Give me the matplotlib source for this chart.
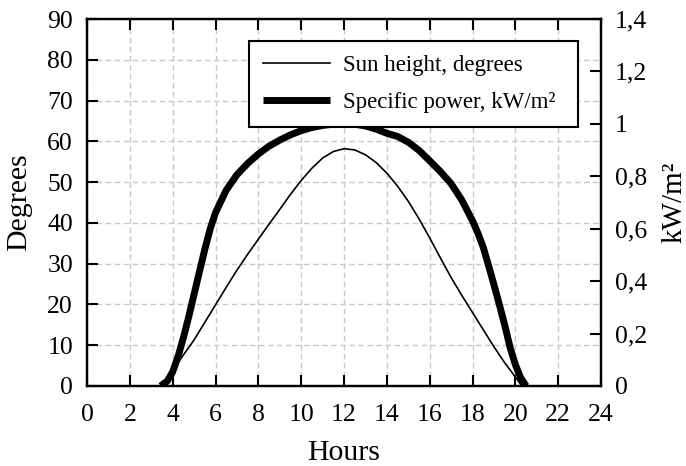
import matplotlib
matplotlib.use("Agg")
import matplotlib.pyplot as plt

plt.rcParams['font.family'] = ['Liberation Serif', 'DejaVu Serif']

# --- data ---
sun_hours = [0, 3.45, 4.0, 4.5, 5.0, 5.5, 6.0, 6.5, 7.0, 7.5, 8.0, 8.5, 9.0, 9.5, 10.0,
             10.5, 11.0, 11.5, 12.0, 12.5, 13.0, 13.5, 14.0, 14.5, 15.0, 15.5, 16.0,
             16.5, 17.0, 17.5, 18.0, 18.5, 19.0, 19.5, 20.0, 20.3, 24]
sun_deg = [0, 0, 3.8, 7.6, 11.3, 15.6, 19.9, 24.2, 28.4, 32.3, 36.0, 39.7, 43.3, 47.0, 50.4,
           53.4, 55.9, 57.5, 58.2, 57.9, 56.7, 54.8, 52.2, 49.0, 45.3, 41.0, 36.3,
           31.4, 26.6, 22.2, 18.0, 13.8, 9.6, 5.7, 2.2, 0, 0]

power_hours = [3.44, 3.75, 4.0, 4.25, 4.5, 4.75, 5.0, 5.25, 5.5, 5.75, 6.0, 6.5, 7.0, 7.5,
               8.0, 8.5, 9.0, 9.5, 10.0, 10.5, 11.0, 11.5, 12.0, 12.5, 13.0, 13.5, 14.0,
               14.5, 15.0, 15.5, 16.0, 16.5, 17.0, 17.5, 18.0, 18.25, 18.5, 18.75, 19.0,
               19.25, 19.5, 19.75, 20.0, 20.25, 20.5]
power_kw = [0, 0.019, 0.054, 0.112, 0.184, 0.264, 0.350, 0.436, 0.521, 0.599, 0.661, 0.747, 0.806, 0.849,
            0.885, 0.915, 0.938, 0.958, 0.974, 0.986, 0.994, 0.999, 1.0, 0.999, 0.992, 0.980, 0.964,
            0.952, 0.930, 0.899, 0.859, 0.818, 0.772, 0.709, 0.630, 0.583, 0.529, 0.459, 0.386,
            0.311, 0.233, 0.148, 0.081, 0.031, 0]

hour_ticks = list(range(0, 25, 2))
deg_ticks = list(range(0, 91, 10))
kw_ticks = [0, 0.2, 0.4, 0.6, 0.8, 1.0, 1.2, 1.4]
kw_labels = ["0", "0,2", "0,4", "0,6", "0,8", "1", "1,2", "1,4"]

fig = plt.figure(figsize=(6.86, 4.66), dpi=100)
ax = fig.add_axes([0.1268, 0.1717, 0.7494, 0.7875])
ax2 = ax.twinx()

l1, = ax.plot(sun_hours, sun_deg, color='black', lw=1.2, label='Sun height, degrees')
l2, = ax2.plot(power_hours, power_kw, color='black', lw=5, solid_capstyle='butt',
               label='Specific power, kW/m²')

ax.set_xlim(0, 24)
ax.set_ylim(0, 90)
ax2.set_ylim(0, 1.4)
ax.set_xticks(hour_ticks)
ax.set_yticks(deg_ticks)
ax2.set_yticks(kw_ticks, kw_labels)

ax.grid(True, color='#c8c8c8', linestyle=(0, (4, 2.5)), linewidth=1.0)
ax.set_axisbelow(True)

ax.tick_params(axis='x', direction='in', length=8, width=1.5, top=True, labelsize=18.5, pad=13)
ax.tick_params(axis='y', direction='in', length=8, width=1.5, labelsize=18.5, pad=10)
ax2.tick_params(axis='y', direction='in', length=8, width=1.5, labelsize=18.5, pad=10)

for a in (ax, ax2):
    for s in a.spines.values():
        s.set_linewidth(1.6)

ax.set_xlabel('Hours', fontsize=21.5, labelpad=10)
ax.set_ylabel('Degrees', fontsize=21.5, labelpad=11)
ax2.set_ylabel('kW/m²', fontsize=21, labelpad=10)

leg = ax2.legend(handles=[l1, l2], loc='upper left', bbox_to_anchor=(0.315, 0.0, 0.640, 0.94),
                 mode='expand', borderaxespad=0, fontsize=16.5, handlelength=2.95,
                 handletextpad=0.55, borderpad=0.6, fancybox=False,
                 framealpha=1, edgecolor='black', labelspacing=0.7)
leg.get_frame().set_linewidth(1.5)

fig.savefig("out.png", dpi=100)
